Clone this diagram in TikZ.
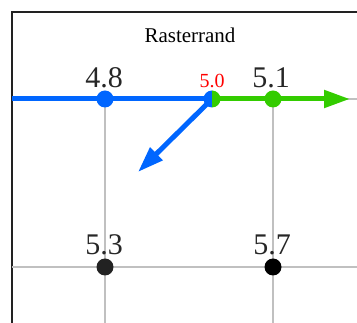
\documentclass[tikz,border=0pt]{standalone}
\usepackage{fontspec}
\setmainfont{Liberation Serif}
\usetikzlibrary{arrows.meta}
\definecolor{rasterblue}{RGB}{0, 102, 255}
\definecolor{rastergreen}{RGB}{51, 204, 0}
\definecolor{gridgray}{RGB}{192, 192, 192}
\definecolor{framedark}{RGB}{34, 34, 34}

\begin{document}
\begin{tikzpicture}[x=1pt, y=-1pt]
    \tikzstyle{gridline} = [draw=gridgray, line width=1.4pt]
    \tikzstyle{dot} = [circle, inner sep=0pt, minimum size=17pt]
    \tikzstyle{valuelabel} = [anchor=base, inner sep=0pt, text=black!85, font=\fontsize{30}{30}\selectfont]
    \tikzstyle{path} = [line width=5pt, -{Triangle[length=26pt, width=17pt]}]
    \useasboundingbox (0,0) rectangle (357,323);

    % frame (open to the right and bottom)
    \draw [framedark, line width=1.4pt] (12,323) -- (12,12) -- (357,12);
    \node (title) at (190,35) {\fontsize{21}{21}\selectfont Rasterrand};

    % grid
    \coordinate (rowA west) at (12,99);
    \coordinate (rowA east) at (357,99);
    \coordinate (rowB west) at (12,267);
    \coordinate (rowB east) at (357,267);
    \coordinate (colA south) at (105,323);
    \coordinate (colB south) at (273,323);
    \node (p48) [dot] at (105,99) {};
    \node (p50) [dot] at (212,99) {};
    \node (p51) [dot] at (273,99) {};
    \node (p53) [dot] at (105,267) {};
    \node (p57) [dot] at (273,267) {};
    \draw [gridline] (rowA west) -- (rowA east);
    \draw [gridline] (rowB west) -- (rowB east);
    \draw [gridline] (p48.center) -- (colA south);
    \draw [gridline] (p51.center) -- (colB south);

    % paths
    \coordinate (blue start) at (12,99);
    \coordinate (green end) at (350,99);
    \coordinate (blue end) at (138,172);
    \draw [path, rasterblue, -] (blue start) -- (p50.center);
    \draw [path, rastergreen] (p50.center) -- (green end);
    \draw [path, rasterblue] (p50.center) -- (blue end);

    % points
    \fill [rasterblue] (p48) circle (8.5);
    \fill [rastergreen] (p51) circle (8.5);
    \fill [rasterblue] (p50.center) ++(0,8.5) arc (90:270:8.5) -- cycle;
    \fill [rastergreen] (p50.center) ++(0,8.5) arc (90:-90:8.5) -- cycle;
    \fill [framedark] (p53) circle (8.5);
    \fill [black] (p57) circle (8.5);

    % labels
    \node (l48) [valuelabel] at (104,88) {4.8};
    \node (l50) [valuelabel, text=red, font=\fontsize{20}{20}\selectfont] at (212,88) {5.0};
    \node (l51) [valuelabel] at (271,88) {5.1};
    \node (l53) [valuelabel] at (104,255) {5.3};
    \node (l57) [valuelabel] at (272,255) {5.7};
\end{tikzpicture}
\end{document}
